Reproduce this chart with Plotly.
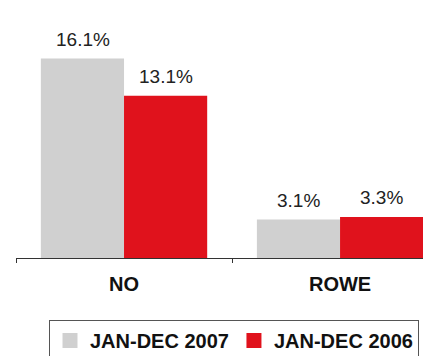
import plotly.graph_objects as go

categories = ["NO", "ROWE"]
series_names = ["JAN-DEC 2007", "JAN-DEC 2006"]
values_2007 = [16.1, 3.1]
values_2006 = [13.1, 3.3]
colors = ["#d0d0d0", "#e0121c"]

BAR_HALF_OFFSET = 41.5  # px, half of bar width within group

# page body has an 8px margin, so the figure is sized to fit the window
W, H = 423, 348

fig = go.Figure()
for i, (name, vals, col) in enumerate(zip(series_names, [values_2007, values_2006], colors)):
    fig.add_trace(go.Bar(
        x=categories, y=vals, name=name,
        marker=dict(color=col, line=dict(width=0)),
        showlegend=False,
    ))
    # legend proxy with square marker
    fig.add_trace(go.Scatter(
        x=[None], y=[None], mode="markers", name=name,
        marker=dict(symbol="square", size=15, color=col),
        showlegend=True,
    ))
    for cat, v in zip(categories, vals):
        fig.add_annotation(
            x=cat, y=v, xref="x", yref="y",
            text=f"{v:.1f}%", showarrow=False,
            xanchor="center", yanchor="bottom",
            xshift=(-1 if i == 0 else 1) * BAR_HALF_OFFSET,
            yshift=7,
            font=dict(family="Liberation Sans", size=19, color="#222222"),
        )

fig.update_layout(
    width=W, height=H,
    margin=dict(l=8, r=0, t=27, b=98, autoexpand=False),
    plot_bgcolor="white", paper_bgcolor="white",
    barmode="group", bargap=0.23, bargroupgap=0,
    legend=dict(
        orientation="h",
        xref="container", yref="container",
        x=41/W, y=1 - 312/H, xanchor="left", yanchor="top",
        bordercolor="#555555", borderwidth=1,
        font=dict(family="Liberation Sans", size=20, color="#111111", weight="bold"),
        itemwidth=30, tracegroupgap=0,
    ),
    xaxis=dict(
        range=[-0.5, 1.421],
        showline=True, linecolor="#333333", linewidth=1,
        ticks="outside", ticklen=4, tickcolor="#333333", tickson="boundaries",
        tickfont=dict(family="Liberation Sans", size=20, color="#111111", weight="bold"),
        ticklabelstandoff=8,
        showgrid=False, zeroline=False,
    ),
    yaxis=dict(range=[0, 18], visible=False, showgrid=False, zeroline=False),
)

fig.write_html("out.html")
